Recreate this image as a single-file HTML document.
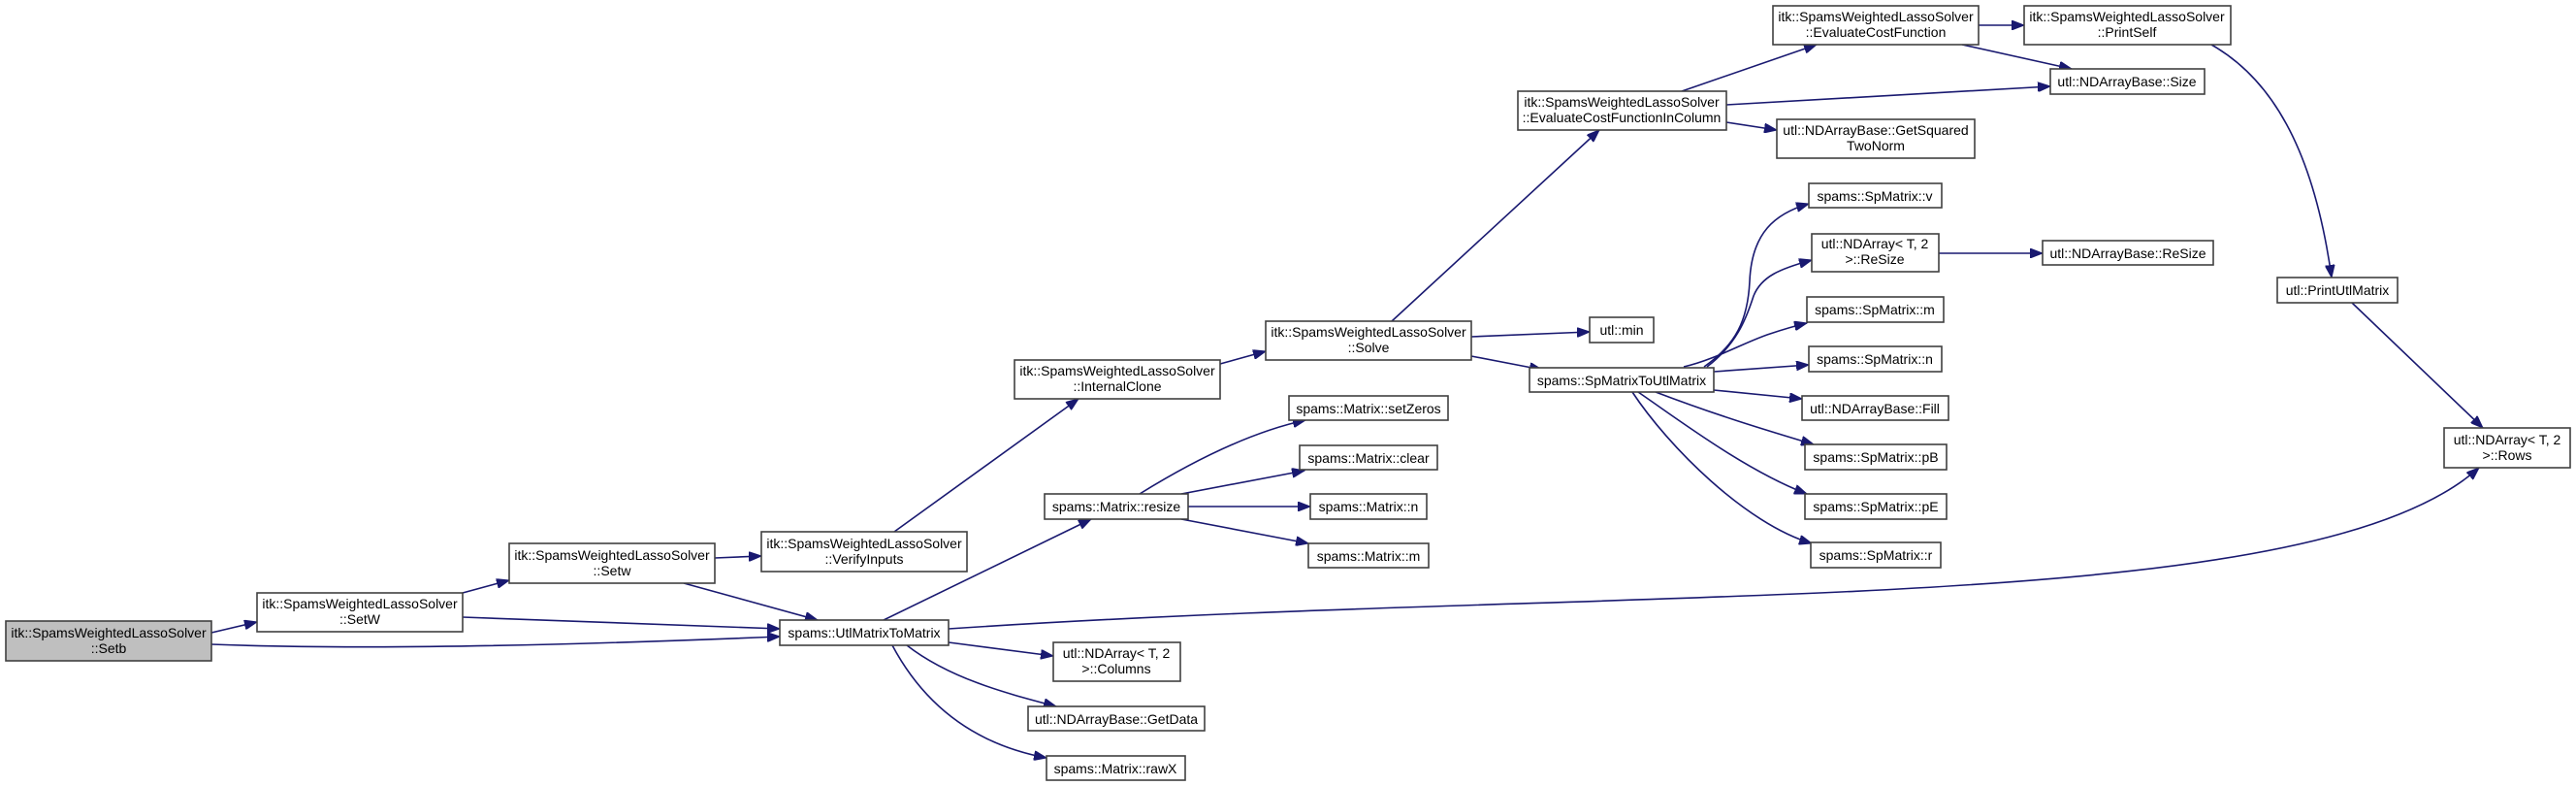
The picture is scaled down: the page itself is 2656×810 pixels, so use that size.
<!DOCTYPE html>
<html><head><meta charset="utf-8"><style>
html,body{margin:0;padding:0;background:#fff;}
svg{display:block;}
text{font-family:"Liberation Sans",Arial,sans-serif;font-size:14px;fill:#000;text-anchor:middle;}
.b{fill:#fff;stroke:#404040;stroke-width:1.6;}
.e{fill:none;stroke:#191970;stroke-width:1.6;}
</style></head><body>
<svg width="2656" height="810" viewBox="0 0 2656 810" xmlns="http://www.w3.org/2000/svg">
<defs><marker id="a" markerWidth="14" markerHeight="10" refX="13" refY="5" orient="auto" markerUnits="userSpaceOnUse"><path d="M0,0 L13,5 L0,10 Z" fill="#191970" stroke="#191970"/></marker></defs>
<g marker-end="url(#a)">
<path class="e" d="M218,652 L265,641"/>
<path class="e" d="M218,664 Q420,672 804,656"/>
<path class="e" d="M477,611 L525,598"/>
<path class="e" d="M477,636 L804,648"/>
<path class="e" d="M737,575 L785,573"/>
<path class="e" d="M705,601 L843,639"/>
<path class="e" d="M922,548 L1112,411"/>
<path class="e" d="M1258,375 L1305,362"/>
<path class="e" d="M1435,331 L1649,134"/>
<path class="e" d="M1517,347 L1639,342"/>
<path class="e" d="M1517,367 L1590,381"/>
<path class="e" d="M1734,94 L1873,46"/>
<path class="e" d="M1780,108 L2114,89"/>
<path class="e" d="M1780,126 L1832,134"/>
<path class="e" d="M2040,26 L2087,26"/>
<path class="e" d="M2023,46 L2136,71"/>
<path class="e" d="M2280,46 C2340,80 2385,150 2404,286"/>
<path class="e" d="M2425,312 L2560,441"/>
<path class="e" d="M978,648 C1700,600 2380,640 2556,482"/>
<path class="e" d="M911,639 L1125,535"/>
<path class="e" d="M978,662 L1086,676"/>
<path class="e" d="M935,665 C980,700 1040,715 1089,728"/>
<path class="e" d="M920,665 C960,740 1020,770 1079,781"/>
<path class="e" d="M1175,509 C1230,475 1290,445 1346,433"/>
<path class="e" d="M1218,509 L1345,485"/>
<path class="e" d="M1225,522 L1351,522"/>
<path class="e" d="M1218,535 L1349,560"/>
<path class="e" d="M1757,378 C1790,355 1802,330 1804,290 C1806,240 1830,220 1865,210"/>
<path class="e" d="M1760,378 C1790,355 1800,330 1808,305 C1816,285 1835,277 1868,268"/>
<path class="e" d="M1736,378 C1770,370 1800,352 1825,344 C1840,339 1850,336 1863,333"/>
<path class="e" d="M1767,383 L1865,376"/>
<path class="e" d="M1767,402 L1858,411"/>
<path class="e" d="M1707,404 C1770,428 1820,443 1870,458"/>
<path class="e" d="M1689,404 C1730,432 1800,485 1863,509"/>
<path class="e" d="M1683,404 C1720,460 1800,540 1868,560"/>
<path class="e" d="M1999,261 L2106,261"/>
</g>
<rect x="6" y="640" width="212" height="41" fill="#bfbfbf" stroke="#404040" stroke-width="1.6"/><text x="112" y="657">itk::SpamsWeightedLassoSolver</text><text x="112" y="673">::Setb</text>
<rect class="b" x="265" y="611" width="212" height="40"/><text x="371" y="627">itk::SpamsWeightedLassoSolver</text><text x="371" y="643">::SetW</text>
<rect class="b" x="525" y="560" width="212" height="41"/><text x="631" y="577">itk::SpamsWeightedLassoSolver</text><text x="631" y="593">::Setw</text>
<rect class="b" x="785" y="548" width="212" height="41"/><text x="891" y="565">itk::SpamsWeightedLassoSolver</text><text x="891" y="581">::VerifyInputs</text>
<rect class="b" x="804" y="639" width="174" height="26"/><text x="891" y="657">spams::UtlMatrixToMatrix</text>
<rect class="b" x="1046" y="371" width="212" height="40"/><text x="1152" y="387">itk::SpamsWeightedLassoSolver</text><text x="1152" y="403">::InternalClone</text>
<rect class="b" x="1305" y="331" width="212" height="40"/><text x="1411" y="347">itk::SpamsWeightedLassoSolver</text><text x="1411" y="363">::Solve</text>
<rect class="b" x="1565" y="94" width="215" height="40"/><text x="1672" y="110">itk::SpamsWeightedLassoSolver</text><text x="1672" y="126">::EvaluateCostFunctionInColumn</text>
<rect class="b" x="1828" y="6" width="212" height="40"/><text x="1934" y="22">itk::SpamsWeightedLassoSolver</text><text x="1934" y="38">::EvaluateCostFunction</text>
<rect class="b" x="2087" y="6" width="213" height="40"/><text x="2193" y="22">itk::SpamsWeightedLassoSolver</text><text x="2193" y="38">::PrintSelf</text>
<rect class="b" x="2114" y="71" width="159" height="26"/><text x="2193" y="89">utl::NDArrayBase::Size</text>
<rect class="b" x="1832" y="123" width="204" height="40"/><text x="1934" y="139">utl::NDArrayBase::GetSquared</text><text x="1934" y="155">TwoNorm</text>
<rect class="b" x="1639" y="327" width="66" height="26"/><text x="1672" y="345">utl::min</text>
<rect class="b" x="1577" y="379" width="190" height="25"/><text x="1672" y="397">spams::SpMatrixToUtlMatrix</text>
<rect class="b" x="1865" y="189" width="137" height="25"/><text x="1933" y="207">spams::SpMatrix::v</text>
<rect class="b" x="1868" y="241" width="131" height="39"/><text x="1933" y="256">utl::NDArray&lt; T, 2</text><text x="1933" y="272">&gt;::ReSize</text>
<rect class="b" x="2106" y="248" width="176" height="25"/><text x="2194" y="266">utl::NDArrayBase::ReSize</text>
<rect class="b" x="1863" y="306" width="141" height="26"/><text x="1933" y="324">spams::SpMatrix::m</text>
<rect class="b" x="1865" y="357" width="137" height="26"/><text x="1933" y="375">spams::SpMatrix::n</text>
<rect class="b" x="1858" y="408" width="151" height="25"/><text x="1933" y="426">utl::NDArrayBase::Fill</text>
<rect class="b" x="1861" y="458" width="146" height="26"/><text x="1934" y="476">spams::SpMatrix::pB</text>
<rect class="b" x="1861" y="509" width="146" height="26"/><text x="1934" y="527">spams::SpMatrix::pE</text>
<rect class="b" x="1867" y="559" width="134" height="26"/><text x="1934" y="577">spams::SpMatrix::r</text>
<rect class="b" x="2348" y="286" width="124" height="26"/><text x="2410" y="304">utl::PrintUtlMatrix</text>
<rect class="b" x="2520" y="441" width="130" height="41"/><text x="2585" y="458">utl::NDArray&lt; T, 2</text><text x="2585" y="474">&gt;::Rows</text>
<rect class="b" x="1329" y="408" width="164" height="25"/><text x="1411" y="426">spams::Matrix::setZeros</text>
<rect class="b" x="1340" y="459" width="142" height="25"/><text x="1411" y="477">spams::Matrix::clear</text>
<rect class="b" x="1351" y="509" width="120" height="26"/><text x="1411" y="527">spams::Matrix::n</text>
<rect class="b" x="1349" y="560" width="124" height="25"/><text x="1411" y="578">spams::Matrix::m</text>
<rect class="b" x="1077" y="509" width="148" height="26"/><text x="1151" y="527">spams::Matrix::resize</text>
<rect class="b" x="1086" y="662" width="131" height="40"/><text x="1151" y="678">utl::NDArray&lt; T, 2</text><text x="1151" y="694">&gt;::Columns</text>
<rect class="b" x="1060" y="728" width="182" height="25"/><text x="1151" y="746">utl::NDArrayBase::GetData</text>
<rect class="b" x="1079" y="779" width="143" height="25"/><text x="1150" y="797">spams::Matrix::rawX</text>
</svg>
</body></html>
